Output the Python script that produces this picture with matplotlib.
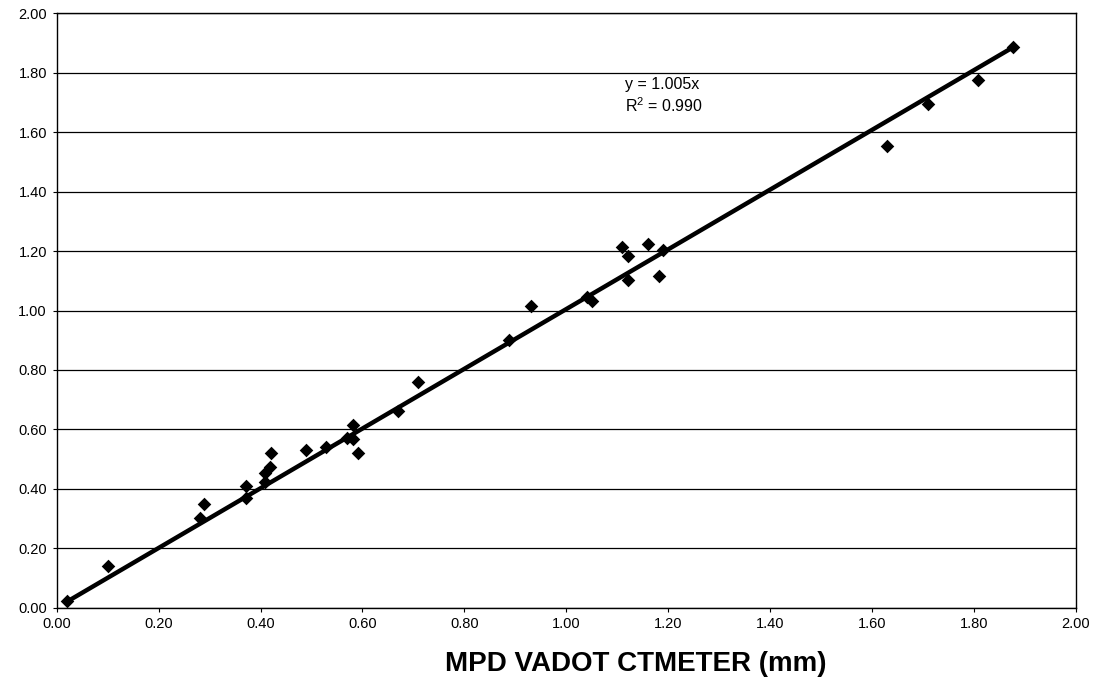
import matplotlib
matplotlib.use("Agg")
import matplotlib.pyplot as plt
import numpy as np

x_vals = [0.021, 0.100, 0.281, 0.290, 0.371, 0.371, 0.409, 0.409, 0.418, 0.420,
          0.490, 0.528, 0.570, 0.581, 0.582, 0.591, 0.669, 0.709, 0.888, 0.930,
          1.041, 1.051, 1.110, 1.120, 1.120, 1.160, 1.181, 1.190,
          1.629, 1.709, 1.808, 1.877]
y_vals = [0.023, 0.141, 0.303, 0.350, 0.409, 0.370, 0.452, 0.424, 0.472, 0.522,
          0.532, 0.542, 0.570, 0.614, 0.569, 0.522, 0.662, 0.760, 0.901, 1.014,
          1.044, 1.033, 1.213, 1.182, 1.103, 1.224, 1.115, 1.204,
          1.555, 1.695, 1.776, 1.888]
slope = 1.005
fit_text = "y = 1.005x\n$\\mathregular{R^2}$ = 0.990"
ticks = [0.0, 0.2, 0.4, 0.6, 0.8, 1.0, 1.2, 1.4, 1.6, 1.8, 2.0]
xlabel = "MPD VADOT CTMETER (mm)"

plt.rcParams['font.family'] = ['Liberation Sans', 'DejaVu Sans']

fig = plt.figure(figsize=(10.96, 6.83), dpi=100)
ax = fig.add_axes([0.0517, 0.1102, 0.9301, 0.8703])

ax.set_xlim(0, 2)
ax.set_ylim(0, 2)
ax.set_xticks(ticks)
ax.set_yticks(ticks)
ax.set_xticklabels([f"{t:.2f}" for t in ticks], fontsize=10.5)
ax.set_yticklabels([f"{t:.2f}" for t in ticks], fontsize=10.5)
ax.tick_params(direction='out', length=3, width=0.8, colors='black', pad=4)
ax.yaxis.grid(True, color='black', linewidth=0.9)
ax.set_axisbelow(True)
for s in ax.spines.values():
    s.set_color('black')
    s.set_linewidth(1.0)

xs = np.array([min(x_vals), max(x_vals)])
ax.plot(xs, slope * xs, color='black', linewidth=3.2, zorder=3)
ax.scatter(x_vals, y_vals, marker='D', s=48, color='black', zorder=4, linewidths=0)

ax.text(1.1915, 1.722, fit_text, fontsize=11.5, ha='center', va='center',
        multialignment='left', linespacing=1.3)

ax.set_xlabel(xlabel, fontsize=20, fontweight='bold')
ax.xaxis.set_label_coords(0.568, -0.072)

fig.savefig("out.png", dpi=100, facecolor='white')
